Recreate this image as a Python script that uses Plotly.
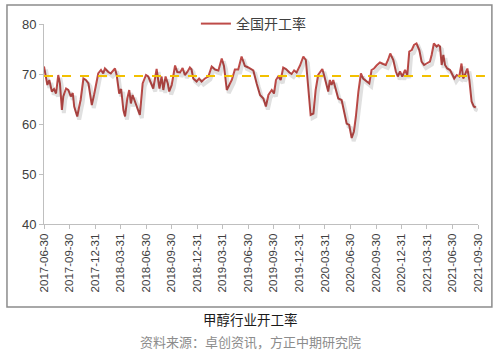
import plotly.graph_objects as go

dates = [
 "2017-06-30","2017-07-07","2017-07-12","2017-07-19","2017-07-28","2017-08-05","2017-08-12","2017-08-20","2017-08-26",
 "2017-09-02","2017-09-07","2017-09-17","2017-09-25","2017-10-04","2017-10-11","2017-10-16","2017-10-27","2017-11-03",
 "2017-11-08","2017-11-18","2017-11-27","2017-12-06","2017-12-18","2017-12-26","2018-01-05","2018-01-10","2018-01-20",
 "2018-01-28","2018-02-03","2018-02-15","2018-02-24","2018-03-11","2018-03-17","2018-03-26","2018-04-02","2018-04-10",
 "2018-04-16","2018-04-24","2018-05-01","2018-05-07","2018-05-13","2018-05-22","2018-05-29","2018-06-08","2018-06-18",
 "2018-06-30","2018-07-08","2018-07-20","2018-07-26","2018-08-07","2018-08-17","2018-08-25","2018-08-31","2018-09-08",
 "2018-09-16","2018-09-21","2018-09-30","2018-10-12","2018-10-20","2018-10-30","2018-11-08","2018-11-16","2018-11-25",
 "2018-12-04","2018-12-10","2018-12-16","2018-12-28","2019-01-06","2019-01-15","2019-01-27","2019-02-08","2019-02-20",
 "2019-03-04","2019-03-16","2019-03-28","2019-04-05","2019-04-15","2019-04-24","2019-05-03","2019-05-14","2019-05-26",
 "2019-06-07","2019-06-19","2019-07-01","2019-07-07","2019-07-19","2019-07-31","2019-08-12","2019-08-24","2019-09-02",
 "2019-09-11","2019-09-23","2019-10-01","2019-10-08","2019-10-16","2019-10-25","2019-11-03","2019-11-13","2019-11-25",
 "2019-12-03","2019-12-12","2019-12-21","2020-01-02","2020-01-14","2020-01-23","2020-02-01","2020-02-09","2020-02-19",
 "2020-02-27","2020-03-07","2020-03-16","2020-03-22","2020-03-28","2020-04-04","2020-04-12","2020-04-18","2020-04-24",
 "2020-04-30","2020-05-10","2020-05-18","2020-05-30","2020-06-07","2020-06-17","2020-06-26","2020-07-05","2020-07-13",
 "2020-07-20","2020-07-29","2020-08-07","2020-08-15","2020-08-28","2020-09-06","2020-09-14","2020-09-23","2020-10-02",
 "2020-10-14","2020-10-26","2020-11-04","2020-11-12","2020-11-20","2020-12-01","2020-12-10","2020-12-17","2020-12-25",
 "2021-01-02","2021-01-12","2021-01-20","2021-01-27","2021-02-05","2021-02-13","2021-02-22","2021-03-04","2021-03-12",
 "2021-03-21","2021-03-30","2021-04-11","2021-04-17","2021-04-25","2021-05-05","2021-05-11","2021-05-17","2021-05-23",
 "2021-05-29","2021-06-04","2021-06-12","2021-06-22","2021-07-01","2021-07-07","2021-07-16","2021-07-25","2021-08-02",
 "2021-08-08","2021-08-14","2021-08-23","2021-08-30","2021-09-07","2021-09-15","2021-09-22",
]

rates = [
 71.5,68.8,67.8,68.8,66.5,67.0,66.1,69.8,68.1,
 62.8,65.5,67.1,66.8,65.5,66.2,63.5,61.5,63.5,
 64.8,69.1,68.8,68.1,63.8,65.8,68.8,70.1,70.8,
 70.1,71.1,70.4,70.1,71.1,69.8,66.1,67.0,62.8,
 61.5,65.1,66.8,64.1,65.8,64.5,63.5,61.8,68.1,
 69.8,69.5,68.1,67.1,71.0,67.1,69.5,66.8,69.5,
 68.1,66.5,67.8,71.7,70.4,70.3,71.2,69.8,70.4,
 71.3,70.9,69.1,68.5,69.1,68.5,69.1,69.5,71.5,
 70.9,70.7,73.1,71.6,66.8,67.8,68.8,70.9,70.9,
 73.5,71.6,71.3,71.1,70.7,68.1,65.8,65.1,63.5,
 65.8,66.8,66.1,68.8,69.5,68.8,71.3,71.0,70.3,
 70.0,70.7,70.3,71.7,73.5,72.8,66.5,61.8,62.1,
 66.8,69.8,70.5,71.0,69.8,68.5,66.5,68.8,67.8,
 68.8,66.8,65.1,64.8,62.8,60.1,59.8,57.2,58.5,
 61.5,66.5,70.1,69.1,68.5,68.1,70.8,71.1,71.7,
 72.3,72.0,71.8,72.8,74.1,72.8,70.5,69.5,70.5,
 69.5,70.8,69.8,74.5,74.8,75.8,76.1,74.8,72.5,
 71.8,72.1,72.5,73.8,76.1,75.5,75.8,75.5,71.8,
 73.8,71.8,71.1,70.8,69.8,69.1,69.8,69.5,72.1,
 69.1,69.8,71.1,68.8,64.5,63.5,63.3,
]

tick_dates = ["2017-06-30","2017-09-30","2017-12-31","2018-03-31","2018-06-30","2018-09-30",
              "2018-12-31","2019-03-31","2019-06-30","2019-09-30","2019-12-31","2020-03-31",
              "2020-06-30","2020-09-30","2020-12-31","2021-03-31","2021-06-30","2021-09-30"]
avg_rate = 69.6
series_name = "全国开工率"
x_range = ["2017-06-30", "2021-09-30"]
y_range = [40, 80]
y_ticks = [40, 50, 60, 70, 80]

FONT = "Liberation Sans, Arial, Noto Sans CJK SC, sans-serif"
CJK = "Noto Sans CJK SC, sans-serif"

fig = go.Figure()

# soft shadow: same data drawn on slightly shifted overlay axes
fig.add_trace(go.Scatter(x=dates, y=rates, mode="lines", xaxis="x2", yaxis="y2",
                         line=dict(color="rgba(0,0,0,0.12)", width=4), showlegend=False,
                         hoverinfo="skip"))
fig.add_trace(go.Scatter(x=dates, y=rates, mode="lines", name=series_name,
                         line=dict(color="#BE4B48", width=2)))

fig.add_shape(type="line", xref="paper", yref="y", x0=0, x1=1.016, y0=avg_rate, y1=avg_rate,
              line=dict(color="#F2C000", width=2, dash="dash"))

# outer border
fig.add_shape(type="rect", xref="paper", yref="paper", x0=-0.0853, x1=1.032, y0=-0.415, y1=1.095,
              line=dict(color="#8c8c8c", width=1.5), layer="below")

fig.update_layout(
    width=500, height=356,
    margin=dict(l=44, r=22, t=24, b=132, autoexpand=False),
    paper_bgcolor="white", plot_bgcolor="white",
    font=dict(family=FONT, color="#404040"),
    xaxis=dict(type="date", range=x_range, tickvals=tick_dates, ticktext=tick_dates,
               tickangle=-90, tickfont=dict(size=11.5, color="#404040"), automargin=False,
               showgrid=False, zeroline=False, showline=True, linecolor="#bfbfbf", linewidth=1,
               ticks="outside", ticklen=4, tickcolor="#bfbfbf"),
    yaxis=dict(range=y_range, tickvals=y_ticks, tickfont=dict(size=13, color="#404040"),
               automargin=False,
               showgrid=False, zeroline=False, showline=True, linecolor="#bfbfbf", linewidth=1,
               ticks="outside", ticklen=4, tickcolor="#bfbfbf"),
    xaxis2=dict(type="date", overlaying="x", range=["2017-06-23", "2021-09-23"], visible=False),
    yaxis2=dict(overlaying="y", range=[40.6, 80.6], visible=False),
    legend=dict(x=0.35, y=1.0, xanchor="left", yanchor="middle", bgcolor="rgba(0,0,0,0)",
                font=dict(family=CJK, size=14, color="#404040")),
    showlegend=True,
)

fig.add_annotation(text="甲醇行业开工率", xref="paper", yref="paper", x=0.475, y=-0.535,
                   showarrow=False, font=dict(family=CJK, size=13.5, color="#1a1a1a"))
fig.add_annotation(text="资料来源：卓创资讯，方正中期研究院", xref="paper", yref="paper", x=0.475, y=-0.645,
                   showarrow=False, font=dict(family=CJK, size=13, color="#8c8c8c"))

fig.write_html("out.html", config={"displayModeBar": False},
               post_script="document.body.style.margin='0';document.body.style.overflow='hidden';")
